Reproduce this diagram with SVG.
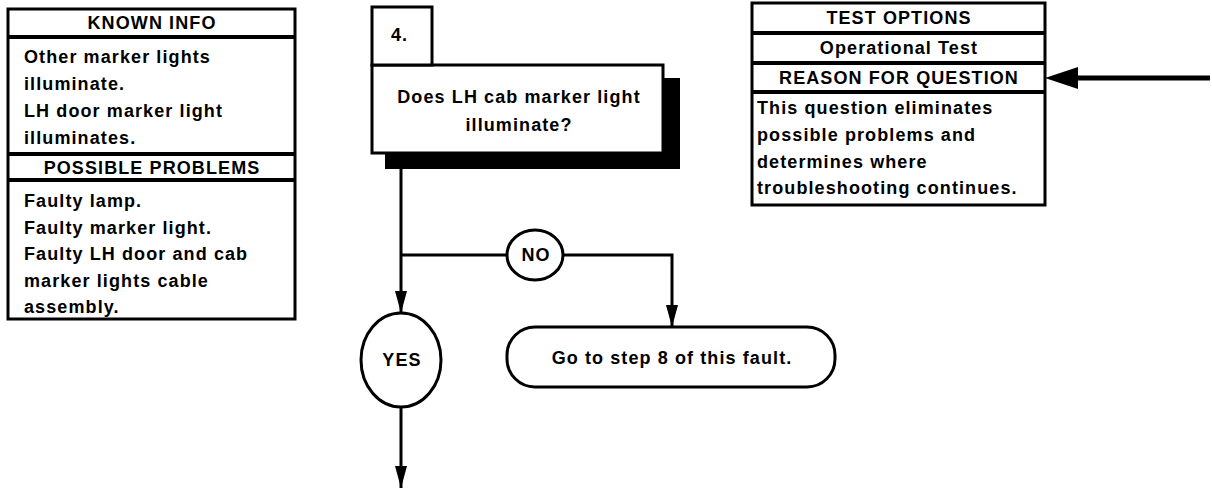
<svg xmlns="http://www.w3.org/2000/svg" width="1212" height="490" viewBox="0 0 1212 490">
  <style>
    text { font-family: "Liberation Sans", Arial, sans-serif; font-weight: bold; font-size: 18px; letter-spacing: 1.1px; fill: #000; }
    .c { text-anchor: middle; }
    .box { fill: #fff; stroke: #000; stroke-width: 3; }
    .rule { stroke: #000; stroke-width: 4; fill: none; }
    .wire { stroke: #000; stroke-width: 3; fill: none; }
  </style>
  <defs>
    <marker id="head" viewBox="0 0 22 14" refX="22" refY="7" markerWidth="22" markerHeight="14" markerUnits="userSpaceOnUse" orient="auto">
      <path d="M0,1 L22,7 L0,13 Z" fill="#000"/>
    </marker>
  </defs>
  <rect width="1212" height="490" fill="#fff"/>

  <!-- Known information / possible problems panel -->
  <g id="known-info">
    <rect class="box" x="8" y="9" width="287" height="310"/>
    <line class="rule" x1="8" y1="37" x2="295" y2="37"/>
    <line class="rule" x1="8" y1="154" x2="295" y2="154"/>
    <line class="rule" x1="8" y1="180" x2="295" y2="180"/>
    <text class="c" x="152" y="29">KNOWN INFO</text>
    <text x="24" y="63">Other marker lights</text>
    <text x="24" y="90">illuminate.</text>
    <text x="24" y="117">LH door marker light</text>
    <text x="24" y="144">illuminates.</text>
    <text class="c" x="152" y="174">POSSIBLE PROBLEMS</text>
    <text x="24" y="207">Faulty lamp.</text>
    <text x="24" y="234">Faulty marker light.</text>
    <text x="24" y="260">Faulty LH door and cab</text>
    <text x="24" y="287">marker lights cable</text>
    <text x="24" y="313">assembly.</text>
  </g>

  <!-- Step 4 question block with drop shadow -->
  <g id="step-4">
    <rect x="385" y="78" width="295" height="91" fill="#000"/>
    <rect class="box" x="372" y="65" width="291" height="88"/>
    <rect class="box" x="372" y="7" width="60" height="58"/>
    <text x="391" y="41">4.</text>
    <text class="c" x="519" y="103">Does LH cab marker light</text>
    <text class="c" x="519" y="131">illuminate?</text>
  </g>

  <!-- Test options / reason panel -->
  <g id="test-options">
    <rect class="box" x="752" y="3" width="293" height="202"/>
    <line class="rule" x1="752" y1="33" x2="1045" y2="33"/>
    <line class="rule" x1="752" y1="63" x2="1045" y2="63"/>
    <line class="rule" x1="752" y1="92" x2="1045" y2="92"/>
    <text class="c" x="899" y="24">TEST OPTIONS</text>
    <text class="c" x="899" y="54">Operational Test</text>
    <text class="c" x="899" y="84">REASON FOR QUESTION</text>
    <text x="757" y="114">This question eliminates</text>
    <text x="757" y="141">possible problems and</text>
    <text x="757" y="168">determines where</text>
    <text x="757" y="194">troubleshooting continues.</text>
  </g>

  <!-- Decision outcomes -->
  <g id="no">
    <ellipse class="box" cx="535" cy="255" rx="28" ry="25"/>
    <text class="c" x="536" y="261">NO</text>
  </g>
  <g id="yes">
    <ellipse class="box" cx="401" cy="360" rx="40" ry="47"/>
    <text class="c" x="402" y="366">YES</text>
  </g>
  <g id="goto-step-8">
    <rect class="box" x="507" y="327" width="328" height="60" rx="28" ry="28"/>
    <text class="c" x="672" y="364">Go to step 8 of this fault.</text>
  </g>

  <!-- Connectors -->
  <g id="connectors">
    <line class="wire" x1="401" y1="169" x2="401" y2="313" marker-end="url(#head)"/>
    <line class="wire" x1="401" y1="255" x2="507" y2="255"/>
    <polyline class="wire" points="563,255 672,255 672,327" marker-end="url(#head)"/>
    <line class="wire" x1="401" y1="407" x2="401" y2="488" marker-end="url(#head)"/>
    <line x1="1210" y1="78" x2="1076" y2="78" stroke="#000" stroke-width="5"/>
    <path d="M1045,78 L1078,67 L1078,89 Z" fill="#000"/>
  </g>
</svg>
